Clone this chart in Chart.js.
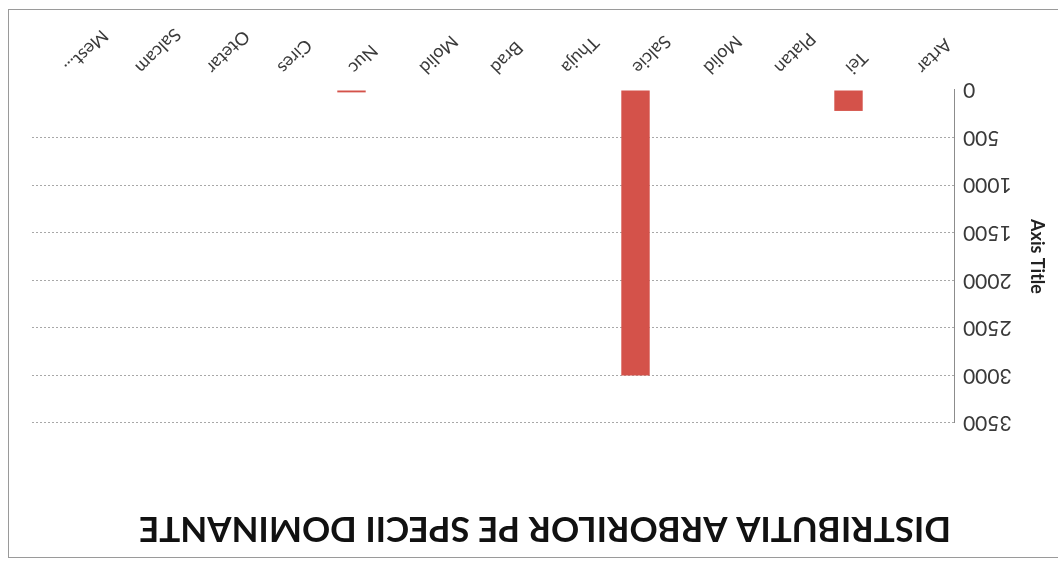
<!DOCTYPE html>
<html>
<head>
<meta charset="utf-8">
<script src="https://cdn.jsdelivr.net/npm/chart.js@4/dist/chart.umd.min.js"></script>
<style>
  html, body { margin: 0; padding: 0; background: #fff; overflow: hidden; }
  /* the scanned chart is upside down, so the whole sheet is turned */
  #sheet { position: relative; width: 1058px; height: 563px; transform: rotate(180deg); }
  #frame { position: absolute; left: -4px; top: 5px; width: 1053px; height: 547px;
           border: 1px solid #9a9a9a; border-left: none; }
  canvas { position: absolute; left: 0; top: 0; }
</style>
</head>
<body>
<div id="sheet">
  <div id="frame"></div>
  <canvas id="chart" width="1058" height="563"></canvas>
</div>
<script>
const categories = ['Artar', 'Tei', 'Platan', 'Molid', 'Salcie', 'Thuja', 'Brad', 'Molid', 'Nuc', 'Cires', 'Otetar', 'Salcam', 'Mest...'];
const values = [0, 220, 0, 0, 3000, 0, 0, 0, 25, 0, 0, 0, 0];
const yTicks = [0, 500, 1000, 1500, 2000, 2500, 3000, 3500];

const chartTitle = 'DISTRIBUTIA ARBORILOR PE SPECII DOMINANTE';
const yAxisTitle = 'Axis Title';

Chart.defaults.font.family = 'Lato, "Open Sans", sans-serif';
Chart.defaults.color = '#3a3a3a';

const ctx = document.getElementById('chart').getContext('2d');
new Chart(ctx, {
  type: 'bar',
  data: {
    labels: categories,
    datasets: [{
      data: values,
      backgroundColor: '#d4524a',
      borderWidth: 0,
      barPercentage: 0.8,
      categoryPercentage: 0.5
    }]
  },
  options: {
    responsive: false,
    animation: false,
    layout: { padding: { left: 0, right: 32, top: 0, bottom: 0 } },
    plugins: {
      legend: { display: false },
      tooltip: { enabled: false },
      title: {
        display: true,
        text: chartTitle,
        color: '#111',
        font: { size: 35, weight: 'bold' },
        padding: { top: 14, bottom: 84 }
      }
    },
    scales: {
      x: {
        grid: { display: false, drawTicks: false },
        border: { display: false },
        ticks: {
          autoSkip: false,
          minRotation: 45,
          maxRotation: 45,
          padding: 12,
          font: { size: 18 }
        },
        afterFit: (scale) => { scale.height = 90; }
      },
      y: {
        min: 0,
        max: 3500,
        afterBuildTicks: (scale) => { scale.ticks = yTicks.map(v => ({ value: v })); },
        grid: {
          drawTicks: false,
          color: (c) => (c.tick && c.tick.value === 0 ? 'rgba(0,0,0,0)' : '#a8a8a8')
        },
        border: { display: true, color: '#8c8c8c', width: 1, dash: [2, 2] },
        ticks: { padding: 8, font: { size: 21 }, callback: (v) => String(v) },
        title: {
          display: true,
          text: yAxisTitle,
          color: '#222',
          font: { size: 18, weight: 'bold' },
          padding: { top: 10, bottom: 0 }
        },
        afterFit: (scale) => { scale.width = 103; }
      }
    }
  }
});
</script>
</body>
</html>
